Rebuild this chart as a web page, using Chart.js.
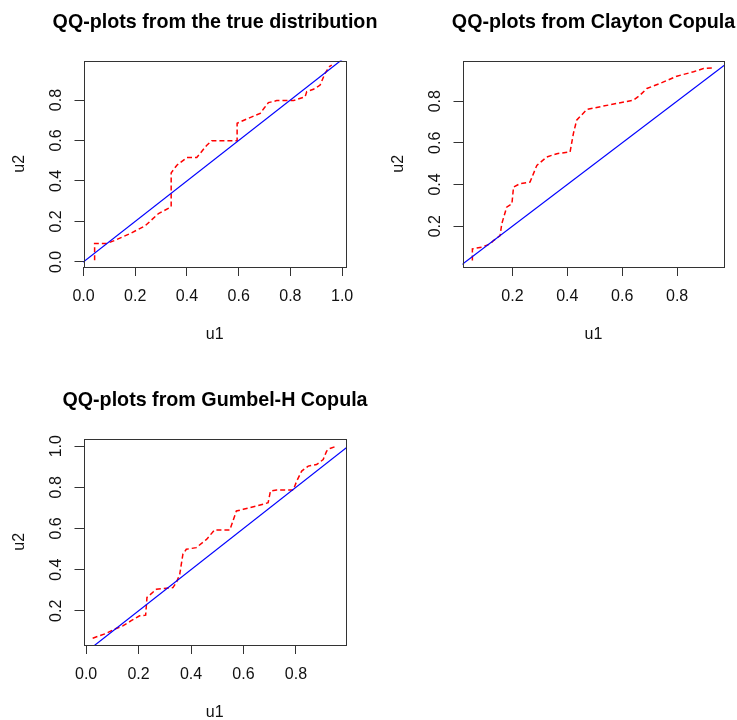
<!DOCTYPE html>
<html>
<head>
<meta charset="utf-8">
<script src="https://cdn.jsdelivr.net/npm/chart.js@4.4.1/dist/chart.umd.min.js"></script>
<style>
  html, body { margin: 0; padding: 0; background: #fff; overflow: hidden; width: 737px; height: 720px; }
  canvas { position: absolute; }
</style>
</head>
<body>
<canvas id="pTrue" width="430" height="344" style="left:0;top:0"></canvas>
<canvas id="pClayton" width="429" height="344" style="left:379px;top:0"></canvas>
<canvas id="pGumbel" width="430" height="344" style="left:0;top:378px"></canvas>
<script>
// --- donnees ---
const trueU1 = [0.043, 0.043, 0.090, 0.122, 0.180, 0.238, 0.290, 0.339, 0.339, 0.361, 0.400, 0.438, 0.477, 0.496, 0.594, 0.594, 0.631, 0.683, 0.698, 0.715, 0.747, 0.812, 0.857, 0.863, 0.889, 0.915, 0.934, 0.951, 0.960];
const trueU2 = [0.008, 0.091, 0.091, 0.107, 0.140, 0.178, 0.239, 0.272, 0.440, 0.478, 0.516, 0.516, 0.577, 0.599, 0.599, 0.685, 0.706, 0.734, 0.759, 0.787, 0.797, 0.797, 0.816, 0.841, 0.853, 0.874, 0.932, 0.965, 0.973];

const claytonU1 = [0.054, 0.054, 0.088, 0.119, 0.131, 0.155, 0.161, 0.179, 0.198, 0.204, 0.228, 0.264, 0.289, 0.325, 0.362, 0.410, 0.422, 0.434, 0.471, 0.507, 0.580, 0.641, 0.665, 0.690, 0.738, 0.799, 0.860, 0.896, 0.932];
const claytonU2 = [0.035, 0.091, 0.099, 0.115, 0.131, 0.155, 0.211, 0.291, 0.307, 0.388, 0.404, 0.412, 0.492, 0.532, 0.548, 0.556, 0.644, 0.709, 0.760, 0.770, 0.789, 0.805, 0.829, 0.861, 0.885, 0.920, 0.941, 0.957, 0.960];

const gumbelU1 = [0.025, 0.051, 0.076, 0.108, 0.140, 0.172, 0.204, 0.227, 0.232, 0.268, 0.331, 0.344, 0.357, 0.369, 0.382, 0.420, 0.459, 0.490, 0.548, 0.573, 0.599, 0.650, 0.694, 0.703, 0.726, 0.790, 0.803, 0.822, 0.847, 0.879, 0.904, 0.917, 0.930, 0.955];
const gumbelU2 = [0.067, 0.079, 0.090, 0.111, 0.127, 0.152, 0.176, 0.179, 0.265, 0.305, 0.313, 0.337, 0.378, 0.475, 0.499, 0.507, 0.547, 0.593, 0.593, 0.685, 0.693, 0.709, 0.725, 0.782, 0.787, 0.787, 0.830, 0.879, 0.903, 0.911, 0.935, 0.976, 0.989, 1.000];

// graduations
const ticksTrueX = [0, 0.2, 0.4, 0.6, 0.8, 1.0];
const ticksTrueY = [0, 0.2, 0.4, 0.6, 0.8];
const ticksClaytonX = [0.2, 0.4, 0.6, 0.8];
const ticksClaytonY = [0.2, 0.4, 0.6, 0.8];
const ticksGumbelX = [0, 0.2, 0.4, 0.6, 0.8];
const ticksGumbelY = [0.2, 0.4, 0.6, 0.8, 1.0];

// limites des axes (usr de R)
const limTrue = { x: [0.0, 1.015], y: [-0.025, 0.995] };
const limClayton = { x: [0.018, 0.972], y: [0.004, 0.995] };
const limGumbel = { x: [-0.01, 0.991], y: [0.034, 1.037] };

Chart.defaults.font.family = '"Liberation Sans", Arial, sans-serif';
Chart.defaults.color = '#111';

// cadre autour de la zone de trace
const boxPlugin = {
    id: 'box',
    afterDatasetsDraw(chart) {
        const a = chart.chartArea;
        const ctx = chart.ctx;
        ctx.save();
        ctx.strokeStyle = '#333';
        ctx.lineWidth = 1;
        const l = Math.round(a.left) + 0.5, t = Math.round(a.top) + 0.5;
        const r = Math.round(a.right) + 0.5, b = Math.round(a.bottom) + 0.5;
        ctx.strokeRect(l, t, r - l, b - t);
        ctx.restore();
    }
};

// rightSpace : axe vide a droite pour que le titre soit centre sur le cadre
function makePanel(id, title, u1, u2, lim, xTicks, yTicks, rightSpace) {
    const pts = u1.map((x, i) => ({ x: x, y: u2[i] }));
    const diag = [{ x: lim.x[0] - 0.05, y: lim.x[0] - 0.05 }, { x: lim.x[1] + 0.05, y: lim.x[1] + 0.05 }];
    new Chart(document.getElementById(id), {
        type: 'line',
        data: {
            datasets: [
                { data: diag, borderColor: '#0000ff', borderWidth: 1.2, pointRadius: 0, yAxisID: 'y' },
                { data: pts, borderColor: '#ff0000', borderWidth: 1.5, borderDash: [5, 3], pointRadius: 0, yAxisID: 'y' }
            ]
        },
        options: {
            responsive: false,
            animation: false,
            layout: { padding: 0 },
            plugins: {
                legend: { display: false },
                tooltip: { enabled: false },
                title: {
                    display: true,
                    text: title,
                    color: '#000',
                    font: { size: 19.7, weight: 'bold' },
                    padding: { top: 11.2, bottom: 25.7 }
                }
            },
            scales: {
                x: {
                    type: 'linear',
                    min: lim.x[0], max: lim.x[1],
                    afterBuildTicks: s => { s.ticks = xTicks.map(v => ({ value: v })); },
                    afterFit: s => { s.height = 77; },
                    grid: { drawOnChartArea: false, drawTicks: true, tickLength: 9, tickColor: '#333' },
                    border: { display: false },
                    ticks: { font: { size: 16 }, padding: 11, maxRotation: 0, callback: v => v.toFixed(1) },
                    title: { display: true, text: 'u1', font: { size: 16, lineHeight: 1 }, padding: { top: 0, bottom: 1 } }
                },
                y: {
                    type: 'linear',
                    position: 'left',
                    min: lim.y[0], max: lim.y[1],
                    afterBuildTicks: s => { s.ticks = yTicks.map(v => ({ value: v })); },
                    afterFit: s => { s.width = 83.5; },
                    grid: { drawOnChartArea: false, drawTicks: true, tickLength: 9, tickColor: '#333' },
                    border: { display: false },
                    ticks: { font: { size: 16 }, padding: 7, minRotation: 90, maxRotation: 90, crossAlign: 'center', callback: v => v.toFixed(1) },
                    title: { display: true, text: 'u2', font: { size: 16, lineHeight: 1 }, padding: { top: 12, bottom: 0 } }
                },
                yRight: {
                    type: 'linear',
                    position: 'right',
                    afterFit: s => { s.width = rightSpace; },
                    grid: { display: false },
                    border: { display: false },
                    ticks: { display: false }
                }
            }
        },
        plugins: [boxPlugin]
    });
}

makePanel('pTrue', 'QQ-plots from the true distribution', trueU1, trueU2, limTrue, ticksTrueX, ticksTrueY, 84);
makePanel('pClayton', 'QQ-plots from Clayton Copula', claytonU1, claytonU2, limClayton, ticksClaytonX, ticksClaytonY, 83.7);
makePanel('pGumbel', 'QQ-plots from Gumbel-H Copula', gumbelU1, gumbelU2, limGumbel, ticksGumbelX, ticksGumbelY, 84);
</script>
</body>
</html>
